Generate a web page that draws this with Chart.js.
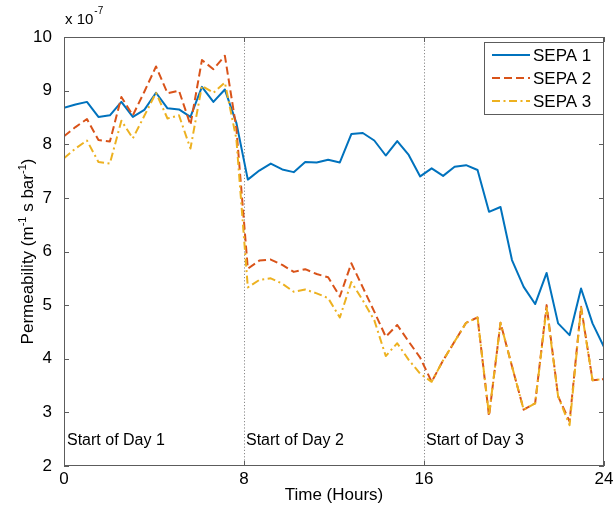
<!DOCTYPE html>
<html>
<head>
<meta charset="utf-8">
<script src="https://cdn.jsdelivr.net/npm/chart.js@4/dist/chart.umd.min.js"></script>
<style>
  html, body { margin: 0; padding: 0; background: #fff; }
  #wrap { width: 613px; height: 507px; position: relative; }
</style>
</head>
<body>
<div id="wrap"><canvas id="c" width="613" height="507"></canvas></div>
<script>
// Sampling times (hours) over the three-day run
const times = [0.00, 0.51, 1.02, 1.53, 2.04, 2.55, 3.06, 3.57, 4.09, 4.60, 5.11, 5.62,
  6.13, 6.64, 7.15, 7.66, 8.17, 8.68, 9.19, 9.70, 10.21, 10.72, 11.23, 11.74,
  12.26, 12.77, 13.28, 13.79, 14.30, 14.81, 15.32, 15.83, 16.34, 16.85, 17.36, 17.87,
  18.38, 18.89, 19.40, 19.91, 20.43, 20.94, 21.45, 21.96, 22.47, 22.98, 23.49, 24.00];

// Permeability, in units of 1e-7 m^-1 s bar^-1
const sepa1 = [8.68, 8.74, 8.79, 8.51, 8.54, 8.79, 8.51, 8.64, 8.96, 8.67, 8.65, 8.51,
  9.07, 8.79, 9.02, 8.40, 7.34, 7.51, 7.64, 7.53, 7.48, 7.67, 7.66, 7.71,
  7.66, 8.19, 8.21, 8.07, 7.79, 8.06, 7.80, 7.40, 7.55, 7.41, 7.58, 7.61,
  7.52, 6.74, 6.83, 5.84, 5.34, 5.02, 5.60, 4.66, 4.44, 5.31, 4.66, 4.22];
const sepa2 = [8.15, 8.32, 8.47, 8.08, 8.05, 8.88, 8.54, 8.98, 9.45, 8.95, 9.00, 8.36,
  9.57, 9.40, 9.65, 8.30, 5.68, 5.83, 5.85, 5.75, 5.62, 5.67, 5.58, 5.52,
  5.16, 5.78, 5.33, 4.88, 4.41, 4.63, 4.32, 4.02, 3.57, 3.97, 4.32, 4.67,
  4.77, 2.93, 4.67, 3.86, 3.05, 3.17, 5.00, 3.30, 2.83, 4.97, 3.60, 3.62];
const sepa3 = [7.74, 7.92, 8.07, 7.67, 7.64, 8.44, 8.11, 8.53, 8.96, 8.48, 8.54, 7.92,
  9.09, 8.96, 9.15, 8.10, 5.33, 5.47, 5.50, 5.40, 5.25, 5.29, 5.22, 5.13,
  4.77, 5.43, 5.09, 4.72, 4.05, 4.29, 3.98, 3.72, 3.57, 3.97, 4.32, 4.67,
  4.77, 2.95, 4.67, 3.86, 3.05, 3.17, 4.95, 3.30, 2.76, 4.95, 3.60, 3.62];

const seriesNames = ['SEPA 1', 'SEPA 2', 'SEPA 3'];
const xTickValues = [0, 8, 16, 24];
const yTickValues = [2, 3, 4, 5, 6, 7, 8, 9, 10];
const dayStarts = [0, 8, 16];
const dayLabels = ['Start of Day 1', 'Start of Day 2', 'Start of Day 3'];
const xTitle = 'Time (Hours)';
const exponentBase = 'x 10';
const exponentPower = '-7';

const FONT = '"Liberation Sans", Arial, sans-serif';
const AXIS_COLOR = '#5c5c5c';
const COLORS = ['#0072BD', '#D95319', '#EDB120'];
const DASHES = [[], [8, 4], [8, 3.5, 2, 3.5]];

const toPoints = (vals) => vals.map((v, i) => ({ x: times[i], y: v }));

const decor = {
  id: 'decor',
  beforeDatasetsDraw(chart) {
    const { ctx, chartArea: a, scales: { x } } = chart;
    ctx.save();
    // dotted day boundaries
    ctx.strokeStyle = '#8a8a8a';
    ctx.lineWidth = 1;
    ctx.setLineDash([1.2, 2]);
    dayStarts.filter(d => d > 0).forEach(d => {
      const px = Math.round(x.getPixelForValue(d)) + 0.5;
      ctx.beginPath();
      ctx.moveTo(px, a.top);
      ctx.lineTo(px, a.bottom);
      ctx.stroke();
    });
    ctx.restore();
  },
  afterDraw(chart) {
    const { ctx, chartArea: a, scales: { x, y } } = chart;
    ctx.save();
    // box
    ctx.strokeStyle = AXIS_COLOR;
    ctx.lineWidth = 1;
    ctx.setLineDash([]);
    ctx.strokeRect(a.left + 0.5, a.top + 0.5, a.right - a.left - 1, a.bottom - a.top - 1);
    // inward ticks
    const tl = 5;
    ctx.beginPath();
    yTickValues.forEach(v => {
      const py = Math.round(y.getPixelForValue(v)) + 0.5;
      ctx.moveTo(a.left, py); ctx.lineTo(a.left + tl, py);
      ctx.moveTo(a.right, py); ctx.lineTo(a.right - tl, py);
    });
    xTickValues.forEach(v => {
      const px = Math.round(x.getPixelForValue(v)) + 0.5;
      ctx.moveTo(px, a.bottom); ctx.lineTo(px, a.bottom - tl);
      ctx.moveTo(px, a.top); ctx.lineTo(px, a.top + tl);
    });
    ctx.stroke();

    // day labels
    ctx.fillStyle = '#000';
    ctx.font = '16px ' + FONT;
    ctx.textBaseline = 'middle';
    ctx.textAlign = 'left';
    dayStarts.forEach((d, i) => {
      const px = x.getPixelForValue(d) + (d === 0 ? 3 : 2);
      ctx.fillText(dayLabels[i], px, 441);
    });

    // x axis title
    ctx.font = '17px ' + FONT;
    ctx.textAlign = 'center';
    ctx.fillText(xTitle, (a.left + a.right) / 2, 495);

    // y axis title with superscripts
    const parts = [
      { t: 'Permeability (m', s: false },
      { t: '-1', s: true },
      { t: ' s bar', s: false },
      { t: '-1', s: true },
      { t: ')', s: false }
    ];
    const mainF = '17px ' + FONT, supF = '11px ' + FONT;
    let total = 0;
    parts.forEach(p => { ctx.font = p.s ? supF : mainF; p.w = ctx.measureText(p.t).width; total += p.w; });
    ctx.translate(27, (a.top + a.bottom) / 2);
    ctx.rotate(-Math.PI / 2);
    ctx.textAlign = 'left';
    ctx.textBaseline = 'alphabetic';
    let cx = -total / 2;
    parts.forEach(p => {
      ctx.font = p.s ? supF : mainF;
      ctx.fillText(p.t, cx, p.s ? -1 : 6);
      cx += p.w;
    });
    ctx.setTransform(1, 0, 0, 1, 0, 0);

    // exponent label
    ctx.textBaseline = 'alphabetic';
    ctx.textAlign = 'left';
    ctx.font = '15px ' + FONT;
    ctx.fillText(exponentBase, a.left + 1, 24);
    const bw = ctx.measureText(exponentBase).width;
    ctx.font = '10px ' + FONT;
    ctx.fillText(exponentPower, a.left + 1 + bw + 1, 14);

    // legend
    const lx = 484, ly = 42, lw = 119, lh = 72;
    ctx.fillStyle = '#fff';
    ctx.fillRect(lx, ly, lw, lh);
    ctx.strokeStyle = AXIS_COLOR;
    ctx.lineWidth = 1;
    ctx.strokeRect(lx + 0.5, ly + 0.5, lw, lh);
    const rows = [55, 78, 101];
    chart.data.datasets.forEach((ds, i) => {
      ctx.strokeStyle = ds.borderColor;
      ctx.lineWidth = ds.borderWidth;
      ctx.setLineDash(ds.borderDash || []);
      ctx.beginPath();
      ctx.moveTo(492, rows[i]);
      ctx.lineTo(530, rows[i]);
      ctx.stroke();
      ctx.setLineDash([]);
      ctx.fillStyle = '#000';
      ctx.font = '17px ' + FONT;
      ctx.textBaseline = 'middle';
      ctx.fillText(ds.label, 533, rows[i] + 1);
    });
    ctx.restore();
  }
};

new Chart(document.getElementById('c'), {
  type: 'line',
  data: {
    datasets: [sepa1, sepa2, sepa3].map((vals, i) => ({
      label: seriesNames[i],
      data: toPoints(vals),
      borderColor: COLORS[i],
      backgroundColor: COLORS[i],
      borderWidth: 2,
      borderDash: DASHES[i],
      borderJoinStyle: 'round',
      pointRadius: 0,
      tension: 0,
      fill: false,
      order: 2 - i
    }))
  },
  options: {
    responsive: false,
    devicePixelRatio: 1,
    animation: false,
    layout: { padding: { top: 37, right: 9, left: 0, bottom: 0 } },
    plugins: { legend: { display: false }, tooltip: { enabled: false } },
    scales: {
      x: {
        type: 'linear',
        min: 0, max: 24,
        afterBuildTicks: (s) => { s.ticks = xTickValues.map(v => ({ value: v })); },
        afterFit: (s) => { s.height = 41; s.paddingLeft = 0; s.paddingRight = 0; },
        grid: { display: false },
        border: { display: false },
        ticks: { color: '#000', font: { family: FONT, size: 17 }, padding: -5, maxRotation: 0 }
      },
      y: {
        type: 'linear',
        min: 2, max: 10,
        afterBuildTicks: (s) => { s.ticks = yTickValues.map(v => ({ value: v })); },
        afterFit: (s) => { s.width = 64; s.paddingTop = 0; s.paddingBottom = 0; },
        grid: { display: false },
        border: { display: false },
        ticks: { color: '#000', font: { family: FONT, size: 17 }, padding: 4 }
      }
    }
  },
  plugins: [decor]
});
</script>
</body>
</html>
